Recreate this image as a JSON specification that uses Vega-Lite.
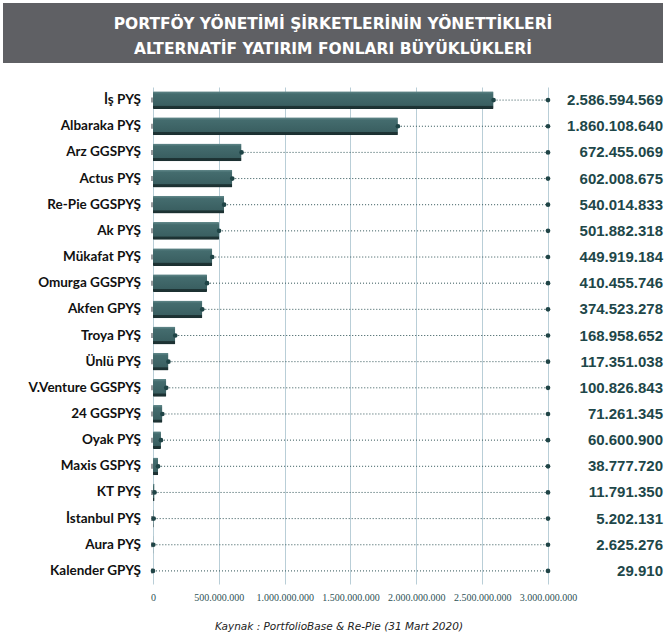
{
  "$schema": "https://vega.github.io/schema/vega-lite/v6.json",
  "padding": {"left": 3, "top": 3, "right": 4, "bottom": 4},
  "background": "#ffffff",
  "spacing": 24,
  "config": {
    "locale": {"number": {"decimal": ",", "thousands": ".", "grouping": [3], "currency": ["₺", ""]}},
    "font": "Lato"
  },
  "datasets": {
    "funds": [
      {"company": "İş PYŞ", "value": 2586594569},
      {"company": "Albaraka PYŞ", "value": 1860108640},
      {"company": "Arz GGSPYŞ", "value": 672455069},
      {"company": "Actus PYŞ", "value": 602008675},
      {"company": "Re-Pie GGSPYŞ", "value": 540014833},
      {"company": "Ak PYŞ", "value": 501882318},
      {"company": "Mükafat PYŞ", "value": 449919184},
      {"company": "Omurga GGSPYŞ", "value": 410455746},
      {"company": "Akfen GPYŞ", "value": 374523278},
      {"company": "Troya PYŞ", "value": 168958652},
      {"company": "Ünlü PYŞ", "value": 117351038},
      {"company": "V.Venture GGSPYŞ", "value": 100826843},
      {"company": "24 GGSPYŞ", "value": 71261345},
      {"company": "Oyak PYŞ", "value": 60600900},
      {"company": "Maxis GSPYŞ", "value": 38777720},
      {"company": "KT PYŞ", "value": 11791350},
      {"company": "İstanbul PYŞ", "value": 5202131},
      {"company": "Aura PYŞ", "value": 2625276},
      {"company": "Kalender GPYŞ", "value": 29910}
    ]
  },
  "vconcat": [
    {
      "width": 660,
      "height": 60,
      "view": {"fill": "#5f6064", "stroke": null},
      "data": {"values": [{"t": "PORTFÖY YÖNETİMİ ŞİRKETLERİNİN YÖNETTİKLERİ|ALTERNATİF YATIRIM FONLARI BÜYÜKLÜKLERİ"}]},
      "mark": {"type": "text", "lineBreak": "|", "lineHeight": 25, "dy": -9, "color": "#ffffff", "font": "DejaVu Sans", "fontSize": 15.5, "fontWeight": "bold", "align": "center", "baseline": "middle"},
      "encoding": {"text": {"field": "t"}}
    },
    {
      "width": 660,
      "height": 497,
      "view": {"stroke": null},
      "data": {"name": "funds"},
      "title": {"text": "Kaynak : PortfolioBase & Re-Pie (31 Mart 2020)", "orient": "bottom", "anchor": "middle", "dx": 6, "font": "DejaVu Sans", "fontSize": 10.5, "fontStyle": "italic", "fontWeight": "normal", "color": "#222222", "offset": 20},
      "encoding": {
        "y": {
          "field": "company", "type": "nominal",
          "sort": {"field": "value", "order": "descending"},
          "scale": {"paddingInner": 0.32, "paddingOuter": 0.16},
          "axis": null
        }
      },
      "layer": [
        {
          "mark": {"type": "bar", "cornerRadius": 1,
            "color": {"gradient": "linear", "x1": 0, "y1": 0, "x2": 0, "y2": 1,
              "stops": [{"offset": 0, "color": "#648b8d"}, {"offset": 0.16, "color": "#446c6e"}, {"offset": 0.8, "color": "#3a5f61"}, {"offset": 0.84, "color": "#1e3435"}, {"offset": 1, "color": "#1b2f30"}]}},
          "encoding": {
            "x": {"field": "value", "type": "quantitative",
              "scale": {"domain": [-1139240506, 3873417722], "nice": false, "zero": false},
              "axis": {"title": null, "values": [0, 500000000, 1000000000, 1500000000, 2000000000, 2500000000, 3000000000], "format": ",d", "labelOverlap": false, "grid": true, "gridColor": "#b9ced7", "gridWidth": 1, "domain": false, "ticks": false, "labelFont": "Liberation Sans Narrow", "labelFontSize": 10, "labelColor": "#2e5255", "labelPadding": 8}}
          }
        },
        {
          "mark": {"type": "rule", "color": "#979a9d", "strokeWidth": 5, "xOffset": -2},
          "encoding": {"x": {"datum": 0}}
        },
        {
          "mark": {"type": "rule", "strokeDash": [1, 2], "color": "#2e5255", "strokeWidth": 1},
          "encoding": {"x": {"field": "value", "type": "quantitative"}, "x2": {"datum": 3000000000}}
        },
        {
          "mark": {"type": "circle", "size": 22, "opacity": 1, "color": "#1f4446"},
          "encoding": {"x": {"field": "value", "type": "quantitative"}}
        },
        {
          "mark": {"type": "circle", "size": 22, "opacity": 1, "color": "#1f4446"},
          "encoding": {"x": {"datum": 3000000000}}
        },
        {
          "mark": {"type": "text", "align": "right", "baseline": "middle", "dx": -12, "font": "Lato", "fontSize": 13.5, "fontWeight": "bold", "color": "#111111"},
          "encoding": {"x": {"datum": 0}, "text": {"field": "company"}}
        },
        {
          "mark": {"type": "text", "align": "right", "baseline": "middle", "dx": 115, "font": "Liberation Sans", "fontSize": 15, "fontWeight": "bold", "color": "#1e4749"},
          "encoding": {"x": {"datum": 3000000000}, "text": {"field": "value", "type": "quantitative", "format": ",d"}}
        }
      ]
    }
  ]
}
